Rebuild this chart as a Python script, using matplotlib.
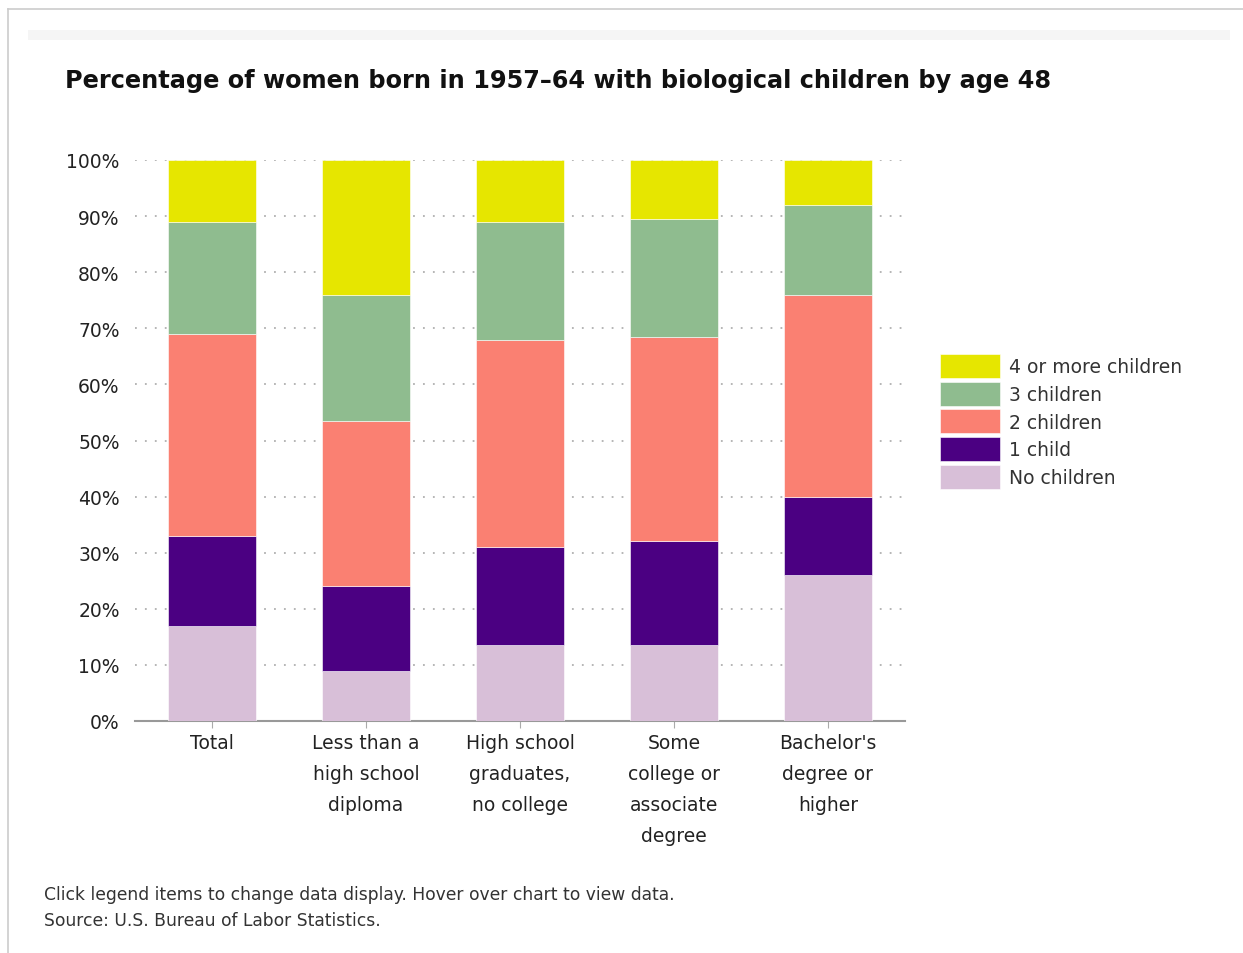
import matplotlib
matplotlib.use("Agg")
import matplotlib.pyplot as plt
from matplotlib.patches import Rectangle
import numpy as np

plt.rcParams["font.family"] = ["DejaVu Sans"]

categories = ["Total", "Less than a\nhigh school\ndiploma", "High school\ngraduates,\nno college",
              "Some\ncollege or\nassociate\ndegree", "Bachelor's\ndegree or\nhigher"]
series_names = ["No children", "1 child", "2 children", "3 children", "4 or more children"]
no_children = [17.0, 9.0, 13.5, 13.5, 26.0]
one_child = [16.0, 15.0, 17.5, 18.5, 14.0]
two_children = [36.0, 29.5, 37.0, 36.5, 36.0]
three_children = [20.0, 22.5, 21.0, 21.0, 16.0]
four_plus = [11.0, 24.0, 11.0, 10.5, 8.0]
colors = ["#d8bfd8", "#4b0082", "#fa8072", "#8fbc8f", "#e6e600"]
yticks = [0, 10, 20, 30, 40, 50, 60, 70, 80, 90, 100]

W, H = 1243, 954
fig = plt.figure(figsize=(W / 100, H / 100), dpi=100)

# page frame
fig.add_artist(plt.Line2D([8 / W, 8 / W], [0, 1 - 10 / H], color="#cccccc", lw=1.2))
fig.add_artist(plt.Line2D([8 / W, 1], [1 - 10 / H, 1 - 10 / H], color="#cccccc", lw=1.2))
fig.add_artist(Rectangle((28 / W, 1 - 41 / H), (1230 - 28) / W, 10 / H, color="#f5f5f5", lw=0))

ax = fig.add_axes([135 / W, 1 - 722 / H, (905 - 135) / W, (722 - 161) / H])
x = np.arange(len(categories))
data = [no_children, one_child, two_children, three_children, four_plus]
bottom = np.zeros(len(categories))
bars = []
for vals, name, c in zip(data, series_names, colors):
    b = ax.bar(x, vals, width=0.57, bottom=bottom, color=c, label=name, zorder=3,
               edgecolor="white", linewidth=0.4)
    bars.append(b)
    bottom += np.array(vals)

ax.set_xlim(-0.5, len(categories) - 0.5)
ax.set_ylim(0, 100)
ax.set_yticks(yticks)
ax.set_yticklabels([f"{v}%" for v in yticks], fontsize=13.5, color="#222222", va="center_baseline")
ax.yaxis.grid(True, linestyle=(0, (1, 4.5)), color="#b0b0b0", linewidth=1.3, zorder=0)
ax.tick_params(axis="y", length=0, pad=11)
ax.set_xticks(x)
ax.set_xticklabels(categories, fontsize=13.5, color="#222222", linespacing=1.8)
ax.tick_params(axis="x", length=5, color="#aaaaaa", pad=4)
for s in ["top", "right", "left"]:
    ax.spines[s].set_visible(False)
ax.spines["bottom"].set_color("#999999")
ax.spines["bottom"].set_linewidth(1.5)

handles = bars[::-1]
labels = series_names[::-1]
leg = ax.legend(handles, labels, loc="upper left", bbox_to_anchor=(940 / W, 1 - 355 / H),
                bbox_transform=fig.transFigure, frameon=False, fontsize=13.5,
                handlelength=3.2, handleheight=1.59, labelspacing=0.2, handletextpad=0.5,
                borderaxespad=0, borderpad=0)
for t in leg.get_texts():
    t.set_color("#333333")

fig.text(65 / W, 1 - 81 / H, "Percentage of women born in 1957\u201364 with biological children by age 48",
         fontsize=17.3, fontweight="bold", va="center", ha="left", color="#111111")
fig.text(44 / W, 1 - 895 / H, "Click legend items to change data display. Hover over chart to view data.",
         fontsize=12.3, va="center", ha="left", color="#333333")
fig.text(44 / W, 1 - 921 / H, "Source: U.S. Bureau of Labor Statistics.",
         fontsize=12.3, va="center", ha="left", color="#333333")

fig.savefig("out.png", dpi=100)
